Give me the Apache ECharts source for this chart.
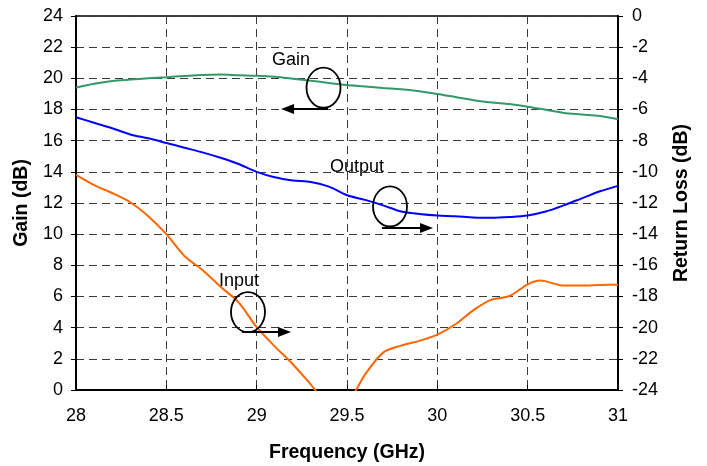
<!DOCTYPE html>
<html>
<head>
<meta charset="utf-8">
<script src="https://cdn.jsdelivr.net/npm/echarts@6/dist/echarts.min.js"></script>
<style>html,body{margin:0;padding:0;background:#fff}#c{width:707px;height:466px}</style>
</head>
<body>
<div id="c"></div>
<script>
var freq = [28.0,28.1,28.2,28.3,28.4,28.5,28.6,28.7,28.8,28.9,29.0,29.1,29.2,29.3,29.4,29.5,29.6,29.7,29.8,29.9,30.0,30.1,30.2,30.3,30.4,30.5,30.6,30.7,30.8,30.9,31.0];
var gain = [19.4,19.65,19.83,19.92,20.0,20.07,20.15,20.22,20.24,20.2,20.17,20.1,19.98,19.85,19.7,19.57,19.48,19.38,19.3,19.17,19.0,18.8,18.6,18.45,18.35,18.18,17.98,17.78,17.68,17.58,17.37];
var outputRL = [-6.5,-6.85,-7.2,-7.6,-7.85,-8.15,-8.45,-8.75,-9.1,-9.5,-10.0,-10.35,-10.55,-10.65,-10.95,-11.5,-11.8,-12.15,-12.55,-12.7,-12.8,-12.85,-12.93,-12.95,-12.9,-12.8,-12.55,-12.15,-11.7,-11.25,-10.9];
var inputFreq = [28.0,28.1,28.2,28.3,28.4,28.5,28.6,28.7,28.8,28.9,29.0,29.1,29.2,29.3,29.45,29.55,29.6,29.7,29.8,29.9,30.0,30.1,30.2,30.3,30.4,30.5,30.57,30.7,30.8,30.9,31.0];
var inputRL = [-10.2,-10.85,-11.36,-11.95,-12.85,-14.0,-15.4,-16.3,-17.37,-18.38,-19.97,-21.2,-22.35,-23.65,-25.6,-24.0,-23.0,-21.6,-21.15,-20.85,-20.45,-19.78,-18.87,-18.2,-17.97,-17.22,-16.98,-17.3,-17.3,-17.26,-17.24];
var xTicks = {min:28, max:31, interval:0.5};
var gainTicks = {min:0, max:24, interval:2};
var rlTicks = {min:-24, max:0, interval:2};
var notes = [
  {text:'Gain',   label:[29.19,21.15], ellipse:[29.37,19.4],  arrow:[[29.395,18.03],[29.135,18.03]]},
  {text:'Output', label:[29.555,14.3], ellipse:[29.738,11.78],arrow:[[29.694,10.4],[29.976,10.4]]},
  {text:'Input',  label:[28.902,7.0],  ellipse:[28.952,5.0],  arrow:[[28.919,3.72],[29.19,3.72]]}
];

function pairs(xs, ys){ return xs.map(function(x,i){ return [x, ys[i]]; }); }

var FONT = '"Liberation Sans", Arial, sans-serif';
var chart = echarts.init(document.getElementById('c'), null, {renderer:'canvas'});
var gridLine = {show:true, lineStyle:{color:'#3a3a3a', width:1, type:[8,5]}};
var titleStyle = {fontFamily:FONT, fontWeight:'bold', fontSize:19.5, color:'#000'};
var tickStyle = {fontFamily:FONT, fontSize:18, color:'#000'};
chart.setOption({
  animation:false,
  backgroundColor:'#fff',
  grid:{left:76, right:89, top:16, bottom:76, show:true, borderColor:'#000', borderWidth:1.5, containLabel:false, outerBoundsMode:'none'},
  xAxis:{
    type:'value', min:xTicks.min, max:xTicks.max, interval:xTicks.interval,
    name:'Frequency (GHz)', nameLocation:'middle', nameGap:53,
    nameTextStyle:titleStyle,
    axisLine:{show:true, onZero:false, lineStyle:{color:'#000', width:2}},
    axisTick:{show:true, inside:true, length:5, lineStyle:{color:'#000'}},
    axisLabel:Object.assign({margin:17}, tickStyle),
    splitLine:gridLine
  },
  yAxis:[{
    type:'value', min:gainTicks.min, max:gainTicks.max, interval:gainTicks.interval, position:'left',
    name:'Gain (dB)', nameLocation:'middle', nameGap:39, nameRotate:90,
    nameTextStyle:titleStyle,
    axisLine:{show:true, onZero:false, lineStyle:{color:'#000', width:2}},
    axisTick:{show:true, inside:false, length:5, lineStyle:{color:'#000'}},
    axisLabel:Object.assign({margin:13}, tickStyle),
    splitLine:gridLine
  },{
    type:'value', min:rlTicks.min, max:rlTicks.max, interval:rlTicks.interval, position:'right',
    name:'Return Loss (dB)', nameLocation:'middle', nameGap:54, nameRotate:90,
    nameTextStyle:titleStyle,
    axisLine:{show:true, onZero:false, lineStyle:{color:'#000', width:2}},
    axisTick:{show:true, inside:false, length:5, lineStyle:{color:'#000'}},
    axisLabel:Object.assign({margin:14}, tickStyle),
    splitLine:{show:false}
  }],
  series:[
    {name:'Gain', type:'line', yAxisIndex:0, data:pairs(freq,gain), smooth:0.3, symbol:'none', clip:true, lineStyle:{color:'#339966', width:2}},
    {name:'Output', type:'line', yAxisIndex:1, data:pairs(freq,outputRL), smooth:0.3, symbol:'none', clip:true, lineStyle:{color:'#0000FF', width:2}},
    {name:'Input', type:'line', yAxisIndex:1, data:pairs(inputFreq,inputRL), smooth:0.3, symbol:'none', clip:true, lineStyle:{color:'#FF6600', width:2}}
  ]
});

var g = [];
notes.forEach(function(n){
  var lp = chart.convertToPixel({xAxisIndex:0, yAxisIndex:0}, n.label);
  var ep = chart.convertToPixel({xAxisIndex:0, yAxisIndex:0}, n.ellipse);
  var a0 = chart.convertToPixel({xAxisIndex:0, yAxisIndex:0}, n.arrow[0]);
  var a1 = chart.convertToPixel({xAxisIndex:0, yAxisIndex:0}, n.arrow[1]);
  var dir = a1[0] > a0[0] ? 1 : -1;
  g.push({type:'text', x:lp[0], y:lp[1], z:100, style:{text:n.text, fontFamily:FONT, fontSize:18, fill:'#000', align:'center', verticalAlign:'middle'}});
  g.push({type:'ellipse', z:100, shape:{cx:ep[0], cy:ep[1], rx:17, ry:20}, style:{fill:null, stroke:'#000', lineWidth:1.8}});
  g.push({type:'line', z:100, shape:{x1:a0[0], y1:a0[1], x2:a1[0]-dir*10, y2:a1[1]}, style:{stroke:'#000', lineWidth:2}});
  g.push({type:'polygon', z:100, shape:{points:[[a1[0],a1[1]],[a1[0]-dir*13,a1[1]-5],[a1[0]-dir*13,a1[1]+5]]}, style:{fill:'#000'}});
});
chart.setOption({graphic:g});
</script>
</body>
</html>
